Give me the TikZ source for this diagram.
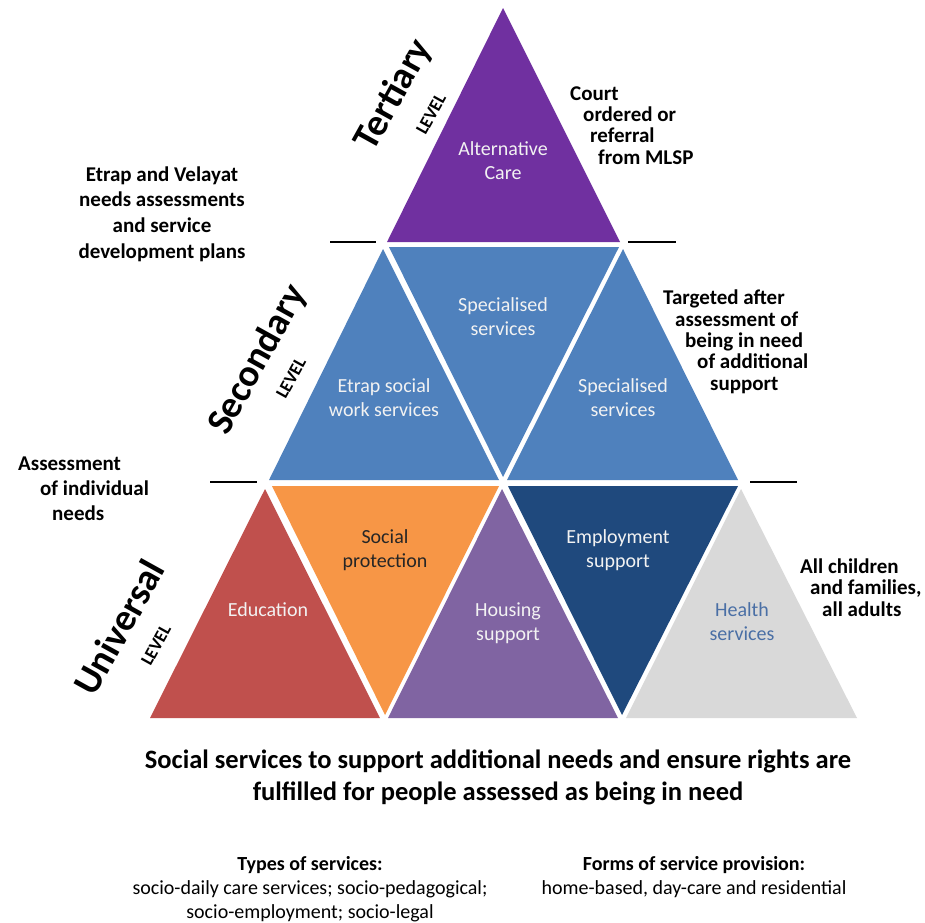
\documentclass[tikz,border=0pt]{standalone}
\usepackage{fontspec}
\setmainfont{Carlito}
\definecolor{cTert}{HTML}{7030A0}
\definecolor{cSec}{HTML}{4F81BD}
\definecolor{cRed}{HTML}{C0504D}
\definecolor{cOrange}{HTML}{F79646}
\definecolor{cHouse}{HTML}{8064A2}
\definecolor{cEmp}{HTML}{1F497D}
\definecolor{cHealth}{HTML}{D9D9D9}
\definecolor{cHealthTxt}{HTML}{4A6FA5}
\definecolor{cLight}{HTML}{F2F2F2}
\begin{document}
\begin{tikzpicture}[x=1pt,y=-1pt,
  tri/.style={font=\fontsize{20}{24}\selectfont, align=center, text=cLight, inner sep=0, anchor=base},
  note/.style={font=\bfseries\fontsize{21}{21.3}\selectfont, align=left, inner sep=0, anchor=base west},
  notec/.style={font=\bfseries\fontsize{21}{25.6}\selectfont, align=center, inner sep=0, anchor=base},
  lvl/.style={font=\bfseries\fontsize{38}{40}\selectfont, inner sep=0, rotate=61},
  lvlsmall/.style={font=\bfseries\fontsize{18}{20}\selectfont, inner sep=0, rotate=61},
  dashline/.style={line width=2.2pt, black},
]
\useasboundingbox (0,0) rectangle (925,922);
\fill[white] (0,0) rectangle (925,922);

% Tertiary
\fill[cTert] (503,8) -- (620,242) -- (387,242) -- cycle;
% Secondary
\fill[cSec] (383,249) -- (499,480) -- (269,480) -- cycle;
\fill[cSec] (389,247) -- (619,247) -- (503,477) -- cycle;
\fill[cSec] (623,249) -- (738,480) -- (507,480) -- cycle;
% Universal
\fill[cRed] (265,489) -- (380,718) -- (150,718) -- cycle;
\fill[cOrange] (272,486) -- (499,486) -- (385,715) -- cycle;
\fill[cHouse] (502,489) -- (618,718) -- (388,718) -- cycle;
\fill[cEmp] (508,486) -- (738,486) -- (622,715) -- cycle;
\fill[cHealth] (741,489) -- (857,718) -- (626,718) -- cycle;

% dashes
\coordinate (d1a) at (330,242); \coordinate (d1b) at (376,242);
\coordinate (d2a) at (628,242); \coordinate (d2b) at (676,242);
\coordinate (d3a) at (210,482); \coordinate (d3b) at (257,482);
\coordinate (d4a) at (750,482); \coordinate (d4b) at (797,482);
\draw[dashline] (d1a) -- (d1b);
\draw[dashline] (d2a) -- (d2b);
\draw[dashline] (d3a) -- (d3b);
\draw[dashline] (d4a) -- (d4b);

% triangle texts (anchor = baseline of last line)
\node[tri] (alt) at (503,179) {Alternative\\Care};
\node[tri] (spec1) at (503,335) {Specialised\\services};
\node[tri] (etrap) at (384,416) {Etrap social\\work services};
\node[tri] (spec2) at (623,416) {Specialised\\services};
\node[tri] (edu) at (268,616) {Education};
\node[tri, text=black!85] (socprot) at (385,567) {Social\\protection};
\node[tri] (house) at (508,640) {Housing\\support};
\node[tri] (emp) at (618,567) {Employment\\support};
\node[tri, text=cHealthTxt] (health) at (742,640) {Health\\services};

% level labels
\node[lvl] (tert) at (394,95) {Tertiary};
\node[lvlsmall] (tertL) at (431,114) {LEVEL};
\node[lvl] (sec) at (258,360) {Secondary};
\node[lvlsmall] (secL) at (291,378) {LEVEL};
\node[lvl] (univ) at (119,627) {Universal};
\node[lvlsmall] (univL) at (156,645) {LEVEL};

% side notes
\node[note] (court) at (570,164) {Court\\\hspace*{13pt}ordered or\\\hspace*{20pt}referral\\\hspace*{28pt}from MLSP};
\node[notec] (plans) at (162,258) {Etrap and Velayat\\needs assessments\\and service\\development plans};
\node[note] (target) at (663,390) {Targeted after\\\hspace*{12pt}assessment of\\\hspace*{22pt}being in need\\\hspace*{34pt}of additional\\\hspace*{47pt}support};
\node[note, font=\bfseries\fontsize{21}{25}\selectfont] (assess) at (18,520) {Assessment\\\hspace*{22pt}of individual\\\hspace*{34pt}needs};
\node[note] (allch) at (800,616) {All children\\\hspace*{10pt}and families,\\\hspace*{22pt}all adults};

% bottom texts
\node[notec, font=\bfseries\fontsize{26.5}{32}\selectfont] (title) at (498,800) {Social services to support additional needs and ensure rights are\\fulfilled for people assessed as being in need};
\node[inner sep=0, anchor=base, align=center, font=\fontsize{20}{24}\selectfont] (types) at (310,918) {\textbf{Types of services:}\\socio-daily care services; socio-pedagogical;\\socio-employment; socio-legal};
\node[inner sep=0, anchor=base, align=center, font=\fontsize{20}{24}\selectfont] (forms) at (694,894) {\textbf{Forms of service provision:}\\home-based, day-care and residential};
\end{tikzpicture}
\end{document}
